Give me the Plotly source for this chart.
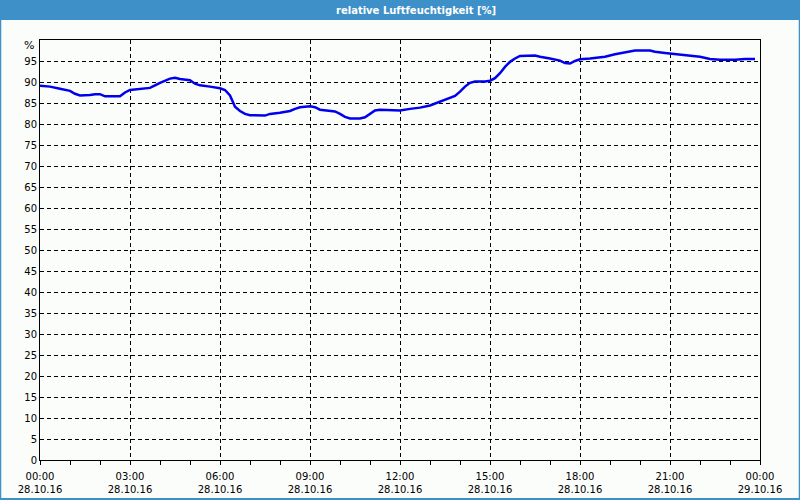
import plotly.graph_objects as go

times = ["00:00","00:20","00:40","01:00","01:10","01:20","01:40","01:50","02:00","02:10","02:40","02:50",
         "03:00","03:20","03:40","03:50","04:00","04:20","04:30","04:40","05:00","05:10","05:20","05:40",
         "06:00","06:10","06:20","06:30","06:40","06:50","07:00","07:30","07:40","08:00","08:20","08:30",
         "08:40","09:00","09:10","09:20","09:50","10:00","10:10","10:20","10:40","10:50","11:00","11:10",
         "11:20","12:00","12:20","12:40","13:00","13:20","13:40","13:50","14:00","14:10","14:20","14:30",
         "14:50","15:00","15:10","15:20","15:30","15:40","15:50","16:00","16:30","16:40","17:00","17:20",
         "17:30","17:40","17:50","18:00","18:20","18:40","18:50","19:10","19:30","19:50","20:20","20:30",
         "20:50","21:10","21:40","22:00","22:20","22:40","23:10","23:30","23:50"]
humidity = [89.1,88.9,88.4,87.9,87.2,86.8,86.9,87.1,87.1,86.6,86.6,87.5,
            88.1,88.3,88.6,89.2,89.8,90.8,91.0,90.7,90.4,89.6,89.2,88.9,
            88.5,88.1,86.8,84.1,83.1,82.4,82.1,82.0,82.4,82.7,83.1,83.6,
            84.0,84.2,84.0,83.4,83.0,82.4,81.7,81.3,81.3,81.6,82.4,83.2,
            83.4,83.2,83.6,83.9,84.4,85.3,86.1,86.7,87.7,88.9,89.8,90.1,
            90.1,90.3,90.9,92.1,93.6,94.8,95.6,96.2,96.3,96.0,95.6,95.1,
            94.5,94.4,95.0,95.4,95.6,95.8,96.0,96.6,97.1,97.5,97.5,97.2,
            96.9,96.6,96.3,96.0,95.5,95.3,95.3,95.5,95.5]

x_tick_vals = ["2016-10-28 00:00","2016-10-28 03:00","2016-10-28 06:00","2016-10-28 09:00",
               "2016-10-28 12:00","2016-10-28 15:00","2016-10-28 18:00","2016-10-28 21:00",
               "2016-10-29 00:00"]
x_tick_text = ["00:00<br>28.10.16","03:00<br>28.10.16","06:00<br>28.10.16","09:00<br>28.10.16",
               "12:00<br>28.10.16","15:00<br>28.10.16","18:00<br>28.10.16","21:00<br>28.10.16",
               "00:00<br>29.10.16"]
y_tick_vals = list(range(0, 100, 5))

title_text = "relative Luftfeuchtigkeit [%]"
bar_color = "#3d90c8"
bg = "#fbfdfb"
font_family = "DejaVu Sans"

x_dates = ["2016-10-28 " + t for t in times]

fig = go.Figure()
fig.add_trace(go.Scatter(x=x_dates, y=humidity, mode="lines",
                         line=dict(color="#0000ee", width=2.5), hoverinfo="skip"))

W, H = 800, 500
L, R, T, B = 40, 40, 40, 40
pw, ph = W - L - R, H - T - B

def px2x(px):
    return (px - L) / pw

def px2y(py):
    return (H - B - py) / ph

fig.update_layout(
    width=W, height=H,
    margin=dict(l=L, r=R, t=T, b=B, autoexpand=False),
    paper_bgcolor=bg, plot_bgcolor=bg,
    showlegend=False,
    font=dict(family=font_family, size=10, color="black"),
    xaxis=dict(type="date", range=["2016-10-28 00:00", "2016-10-29 00:00"],
               tickvals=x_tick_vals, ticktext=x_tick_text, automargin=False,
               showgrid=True, gridcolor="black", gridwidth=1, griddash="4px,3px",
               showline=True, linecolor="black", linewidth=1, mirror=True,
               ticks="outside", ticklen=4, tickcolor="black", ticklabelstandoff=3,
               minor=dict(ticks="outside", dtick=3600000, ticklen=4, tickcolor="black", showgrid=False),
               zeroline=False, fixedrange=True),
    yaxis=dict(range=[0, 100], tickvals=y_tick_vals, automargin=False,
               showgrid=True, gridcolor="black", gridwidth=1, griddash="4px,3px",
               showline=True, linecolor="black", linewidth=1, mirror=True,
               ticks="", zeroline=False, fixedrange=True),
    shapes=[
        dict(type="rect", xref="paper", yref="paper",
             x0=px2x(0), x1=px2x(800), y0=px2y(20), y1=px2y(0),
             fillcolor=bar_color, line=dict(width=0), layer="above"),
        dict(type="line", xref="paper", yref="paper",
             x0=px2x(0.5), x1=px2x(0.5), y0=px2y(20), y1=px2y(500),
             line=dict(color=bar_color, width=1.5)),
        dict(type="line", xref="paper", yref="paper",
             x0=px2x(799.5), x1=px2x(799.5), y0=px2y(20), y1=px2y(500),
             line=dict(color=bar_color, width=1.5)),
        dict(type="line", xref="paper", yref="paper",
             x0=px2x(0), x1=px2x(800), y0=px2y(499), y1=px2y(499),
             line=dict(color=bar_color, width=2)),
    ],
    annotations=[
        dict(text="<b>" + title_text + "</b>", xref="paper", yref="paper",
             x=px2x(416), y=px2y(10), xanchor="center", yanchor="middle",
             showarrow=False, font=dict(color="white", size=10, family=font_family)),
        dict(text="%", xref="paper", yref="paper",
             x=px2x(36), y=px2y(46), xanchor="right", yanchor="middle",
             showarrow=False, font=dict(color="black", size=11, family=font_family)),
    ],
)

fig.write_html("out.html")
